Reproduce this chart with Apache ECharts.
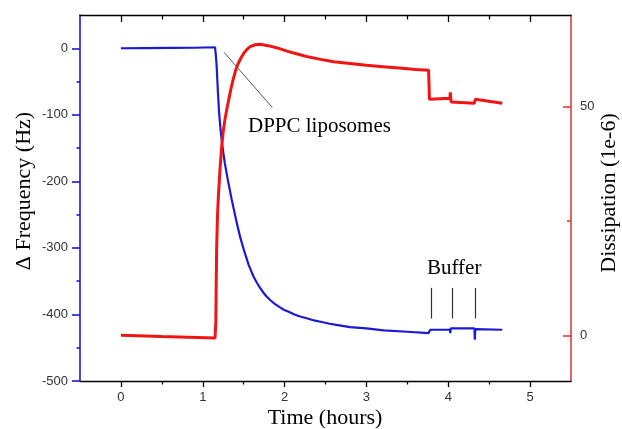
<!DOCTYPE html>
<html>
<head>
<meta charset="utf-8">
<script src="https://cdn.jsdelivr.net/npm/echarts@6/dist/echarts.min.js"></script>
<style>
  html, body { margin: 0; padding: 0; background: #fff; }
  #chart { width: 622px; height: 429px; }
</style>
</head>
<body>
<div id="chart"></div>
<script>
// frequency shift (Hz)
const freqTime  = [0, 0.3, 0.6, 0.9, 1.15, 1.16, 1.17, 1.185, 1.2, 1.22, 1.24, 1.27, 1.31, 1.355, 1.415, 1.46, 1.5, 1.56, 1.62, 1.66, 1.7, 1.74, 1.78, 1.83, 1.88, 1.94, 1.99, 2.05, 2.12, 2.19, 2.28, 2.36, 2.44, 2.55, 2.65, 2.8, 3.0, 3.21, 3.5, 3.76, 3.775, 3.78, 4.02, 4.025, 4.03, 4.32, 4.325, 4.33, 4.66];
const freqValue = [0, 0.2, 0.5, 0.8, 1.5, -10, -27, -65, -97, -125, -147, -173, -200, -228, -262, -285, -302, -325, -343, -352, -360, -367, -373, -379, -384, -389, -393, -396, -400, -403, -406, -409, -411, -414, -416, -419, -421, -424, -426, -428, -427, -423, -423, -428, -421, -421, -438, -422, -423];

// dissipation (1e-6)
const dissTime  = [0, 0.5, 1.15, 1.16, 1.165, 1.17, 1.18, 1.19, 1.21, 1.23, 1.25, 1.27, 1.29, 1.31, 1.34, 1.37, 1.4, 1.43, 1.47, 1.5, 1.54, 1.58, 1.64, 1.7, 1.8, 1.91, 2.05, 2.19, 2.3, 2.44, 2.6, 2.8, 3.0, 3.2, 3.4, 3.6, 3.76, 3.77, 4.02, 4.025, 4.035, 4.32, 4.33, 4.345, 4.66];
const dissValue = [0, -0.3, -0.6, 3, 12, 19, 26, 30, 36, 41, 44.5, 47, 49, 50.8, 53.5, 55.8, 57.8, 59.3, 60.7, 61.6, 62.5, 63.1, 63.5, 63.6, 63.3, 62.8, 62.0, 61.3, 60.8, 60.3, 59.8, 59.4, 59.0, 58.7, 58.4, 58.1, 57.9, 51.6, 51.8, 53.1, 51.0, 50.7, 51.6, 51.3, 50.7];

const timeTicks = [0, 1, 2, 3, 4, 5];
const timeMinor = [0.5, 1.5, 2.5, 3.5, 4.5];
const freqTicks = [-500, -400, -300, -200, -100, 0];
const freqMinor = [-450, -350, -250, -150, -50];
const dissTicks = [0, 50];
const dissMinor = [25];

const freqData = freqTime.map((t, i) => [t, freqValue[i]]);
const dissData = dissTime.map((t, i) => [t, dissValue[i]]);

const chart = echarts.init(document.getElementById('chart'), null, { renderer: 'canvas' });

const labelFont = { fontFamily: 'Liberation Sans, Arial', fontSize: 13, color: '#333' };
const blue = '#1a1ad6';
const red = '#f01414';
const serif = '"Liberation Serif", "Times New Roman"';

function xAx(pos, ticks, len, inside, showLine, labels) {
  return {
    type: 'value', min: -0.5, max: 5.5, position: pos,
    splitLine: { show: false },
    axisLine: { show: showLine, onZero: false, lineStyle: { color: '#000', width: 1.3 } },
    axisTick: { show: true, inside: inside, length: len, customValues: ticks, lineStyle: { color: '#000', width: 1.3 } },
    axisLabel: labels ? Object.assign({ show: true, margin: 10, customValues: ticks }, labelFont) : { show: false }
  };
}

function yAx(pos, min, max, ticks, len, inside, color, showLine, labels, margin) {
  return {
    type: 'value', min: min, max: max, position: pos,
    splitLine: { show: false },
    axisLine: { show: showLine, onZero: false, lineStyle: { color: color, width: 1.6 } },
    axisTick: { show: true, inside: inside, length: len, customValues: ticks, lineStyle: { color: color, width: 1.6 } },
    axisLabel: labels ? Object.assign({ show: true, margin: margin, customValues: ticks }, labelFont) : { show: false }
  };
}

const option = {
  animation: false,
  backgroundColor: '#fff',
  grid: { left: 80, right: 51, top: 15, bottom: 48, containLabel: false },
  xAxis: [
    xAx('bottom', timeTicks, 6, false, true, true),
    xAx('bottom', timeMinor, 3.5, false, false, false),
    xAx('top', timeTicks, 7, true, true, false),
    xAx('top', timeMinor, 4.5, true, false, false)
  ],
  yAxis: [
    yAx('left', -500, 50, freqTicks, 8, false, blue, true, true, 12),
    yAx('right', -10, 70, dissTicks, 8, true, '#e03c3c', true, true, 9),
    yAx('left', -500, 50, freqMinor, 3.5, false, blue, false, false, 0),
    yAx('right', -10, 70, dissMinor, 4, true, '#e03c3c', false, false, 0)
  ],
  series: [
    {
      name: 'Frequency', type: 'line', xAxisIndex: 0, yAxisIndex: 0,
      data: freqData, showSymbol: false, symbol: 'none',
      lineStyle: { color: blue, width: 2.2 },
      markLine: {
        silent: true, symbol: 'none',
        lineStyle: { color: '#333', width: 1.2, type: 'solid' },
        label: { show: false },
        data: [
          [{ coord: [1.26, -6], lineStyle: { color: '#555', width: 1 } }, { coord: [1.85, -89] }],
          [{ coord: [3.79, -360] }, { coord: [3.79, -406] }],
          [{ coord: [4.05, -360] }, { coord: [4.05, -406] }],
          [{ coord: [4.33, -360] }, { coord: [4.33, -406] }]
        ]
      }
    },
    {
      name: 'Dissipation', type: 'line', xAxisIndex: 0, yAxisIndex: 1,
      data: dissData, showSymbol: false, symbol: 'none',
      lineStyle: { color: red, width: 3 }
    }
  ],
  graphic: [
    { type: 'text', left: 248, top: 116, style: { text: 'DPPC liposomes', font: '21px ' + serif, fill: '#000' } },
    { type: 'text', left: 427, top: 258, style: { text: 'Buffer', font: '21px ' + serif, fill: '#000' } },
    { type: 'text', x: 325, y: 418, style: { text: 'Time (hours)', align: 'center', verticalAlign: 'middle', font: '22px ' + serif, fill: '#000' } },
    { type: 'text', x: 24, y: 191, rotation: Math.PI / 2, style: { text: 'Δ Frequency (Hz)', align: 'center', verticalAlign: 'middle', font: '22px ' + serif, fill: '#000' } },
    { type: 'text', x: 609, y: 193, rotation: Math.PI / 2, style: { text: 'Dissipation (1e-6)', align: 'center', verticalAlign: 'middle', font: '22px ' + serif, fill: '#000' } }
  ]
};

chart.setOption(option);
</script>
</body>
</html>
